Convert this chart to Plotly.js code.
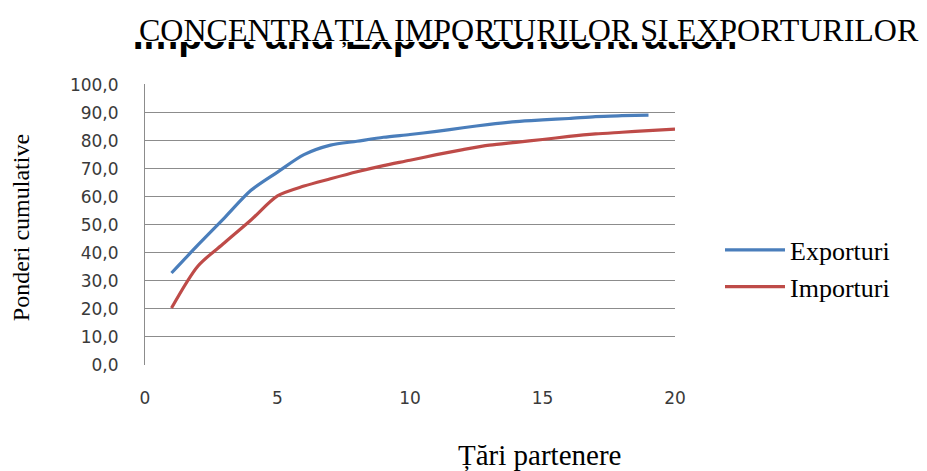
<!DOCTYPE html>
<html>
<head>
<meta charset="utf-8">
<script src="https://cdn.plot.ly/plotly-3.0.1.min.js"></script>
<style>html,body{margin:0;padding:0;background:#fff;}#chart{width:927px;height:471px;}</style>
</head>
<body>
<div id="chart"></div>
<script>
// Data
const exportX = [1,2,3,4,5,6,7,8,9,10,11,12,13,14,15,16,17,18,19];
const exportY = [32.8,42.8,52.5,62.3,68.8,75.0,78.4,79.8,81.2,82.2,83.3,84.6,85.8,86.8,87.4,87.9,88.6,88.9,89.1];
const importX = [1,2,3,4,5,6,7,8,9,10,11,12,13,14,15,16,17,18,19,20];
const importY = [20.3,35.3,43.6,51.7,60.3,63.8,66.4,68.9,71.1,73.0,75.0,76.8,78.4,79.4,80.4,81.5,82.4,83.0,83.6,84.1];
const seriesNames = ["Exporturi", "Importuri"];
const titleText = "CONCENTRAȚIA IMPORTURILOR ȘI EXPORTURILOR";
const hiddenTitleText = "Import and Export concentration";
const xTitleText = "Țări partenere";
const yTitleText = "Ponderi cumulative";

const serif = "Liberation Serif, Times New Roman, serif";
const sans = "DejaVu Sans, sans-serif";

const traces = [
  {x: exportX, y: exportY, name: seriesNames[0], mode: "lines",
   line: {color: "#4A7EBB", width: 3.2, shape: "spline", smoothing: 0.8}},
  {x: importX, y: importY, name: seriesNames[1], mode: "lines",
   line: {color: "#BE4B48", width: 3.2, shape: "spline", smoothing: 0.8}},
  // old chart title partly hidden behind the current title (clipped by its own subplot area)
  {x: [0.4693], y: [1.093], xaxis: "x2", yaxis: "y2", mode: "text",
   text: ["<b>" + hiddenTitleText + "</b>"], textposition: "middle center",
   textfont: {family: "Liberation Sans, Arial, sans-serif", size: 39, color: "#000"},
   cliponaxis: true, showlegend: false, hoverinfo: "skip"}
];

const layout = {
  width: 927, height: 471,
  margin: {l: 0, r: 0, t: 0, b: 106, pad: 0},
  paper_bgcolor: "#fff", plot_bgcolor: "rgba(0,0,0,0)",
  separators: ", ",
  showlegend: true,
  legend: {x: 0.7767, y: 0.2647, xanchor: "left", yanchor: "middle",
           font: {family: serif, size: 26, color: "#000"},
           bgcolor: "rgba(0,0,0,0)", itemwidth: 60},
  xaxis: {domain: [0.15642, 0.72816], range: [0, 20], tickvals: [0,5,10,15,20], showgrid: false, zeroline: false,
          showline: false, ticks: "outside", ticklen: 18, tickcolor: "rgba(0,0,0,0)",
          tickfont: {family: sans, size: 17, color: "#3a3a3a"}, fixedrange: true},
  yaxis: {domain: [0, 0.76986], range: [0, 100.2], tickvals: [0,10,20,30,40,50,60,70,80,90,100], tickformat: ".1f", showgrid: true,
          gridcolor: "#8c8c8c", gridwidth: 1, zeroline: false,
          showline: true, linecolor: "#8c8c8c", linewidth: 1,
          ticks: "outside", ticklen: 22, tickcolor: "rgba(0,0,0,0)",
          tickfont: {family: sans, size: 17, color: "#3a3a3a"}, fixedrange: true},
  xaxis2: {domain: [0, 1], range: [0, 1], anchor: "y2", visible: false, fixedrange: true},
  yaxis2: {domain: [0.8082, 0.8849], range: [0, 1], anchor: "x2", visible: false, fixedrange: true},
  annotations: [
    {text: titleText, xref: "paper", yref: "paper", x: 0.5707, y: 0.9178,
     xanchor: "center", yanchor: "middle", showarrow: false,
     font: {family: serif, size: 32, color: "#000"}},
    {text: xTitleText, xref: "paper", yref: "paper", x: 0.5825, y: -0.2468,
     xanchor: "center", yanchor: "middle", showarrow: false,
     font: {family: serif, size: 29, color: "#000"}},
    {text: yTitleText, xref: "paper", yref: "paper", x: 0.02265, y: 0.3775,
     xanchor: "center", yanchor: "middle", textangle: -90, showarrow: false,
     font: {family: serif, size: 24, color: "#000"}}
  ]
};

Plotly.newPlot("chart", traces, layout, {displayModeBar: false, staticPlot: true});
</script>
</body>
</html>
